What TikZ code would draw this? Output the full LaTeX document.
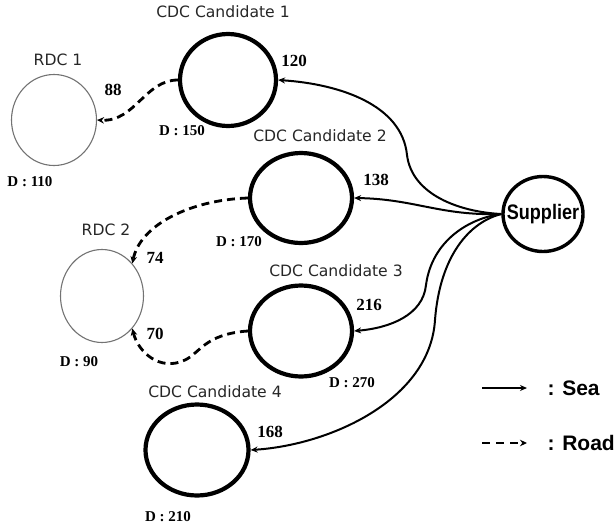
\documentclass[tikz,border=0pt]{standalone}
\usepackage{fontspec}
\setmainfont{Liberation Serif}
\newfontfamily\labelfont{DejaVu Sans}
\newfontfamily\boldsans{Liberation Sans}
\usetikzlibrary{shapes.geometric,arrows.meta}
\begin{document}
\begin{tikzpicture}[x=1pt,y=-1pt,
  cdc/.style={ellipse,draw,line width=4.2pt,inner sep=0pt},
  rdc/.style={ellipse,draw=black!55,line width=1.1pt,inner sep=0pt},
  supnode/.style={ellipse,draw,line width=3.4pt,inner sep=0pt},
  suptext/.style={font=\boldsans\bfseries\fontsize{21}{21}\selectfont},
  tag/.style={font=\labelfont\fontsize{15.6}{16}\selectfont,text=black!85},
  flow/.style={font=\bfseries\fontsize{17}{17}\selectfont},
  dem/.style={font=\bfseries\fontsize{15}{15}\selectfont},
  legtext/.style={anchor=west,font=\boldsans\bfseries\fontsize{21}{21}\selectfont},
  sea/.style={line width=2pt,-{Stealth[length=7pt,width=6pt]}},
  road/.style={line width=2.8pt,dash pattern=on 8pt off 5pt,-{Stealth[length=7pt,width=6.5pt]}},
]
\useasboundingbox (0,0) rectangle (614,528);

% distribution centres
\node[cdc,minimum width=96pt,minimum height=92pt] (c1) at (228,80) {};
\node[cdc,minimum width=102pt,minimum height=90pt] (c2) at (301,198) {};
\node[cdc,minimum width=102pt,minimum height=91pt] (c3) at (301,331) {};
\node[cdc,minimum width=103pt,minimum height=91pt] (c4) at (197,450) {};
\node[rdc,minimum width=85pt,minimum height=91pt] (r1) at (54,120) {};
\node[rdc,minimum width=83pt,minimum height=93pt] (r2) at (102,296) {};
\node[supnode,minimum width=80pt,minimum height=75pt] (sup) at (543,214) {};
\node[suptext,inner sep=0pt] (supt) at (sup.center) {\scalebox{0.86}[1]{Supplier}};

% names
\node[tag] (t1) at (223,12) {CDC Candidate 1};
\node[tag] (t2) at (320,136) {CDC Candidate 2};
\node[tag] (t3) at (336,271) {CDC Candidate 3};
\node[tag] (t4) at (215,392) {CDC Candidate 4};
\node[tag] (tr1) at (58,60) {RDC 1};
\node[tag] (tr2) at (106,230) {RDC 2};

% demands
\node[dem] (d1) at (182,131) {D : 150};
\node[dem] (d2) at (239,242) {D : 170};
\node[dem] (d3) at (352,383) {D : 270};
\node[dem] (d4) at (168,517) {D : 210};
\node[dem] (dr1) at (30,182) {D : 110};
\node[dem] (dr2) at (79,362) {D : 90};

% flow values
\node[flow] (f1) at (294,61) {120};
\node[flow] (f2) at (376,180) {138};
\node[flow] (f3) at (369,305) {216};
\node[flow] (f4) at (270,432) {168};
\node[flow] (f5) at (113,90) {88};
\node[flow] (f6) at (155,258) {74};
\node[flow] (f7) at (155,334) {70};

% sea links
\draw[sea] (sup.west) .. controls (460,212) and (412,195) .. (407,155)
  .. controls (402,105) and (340,84) .. (c1.east);
\draw[sea] (sup.west) .. controls (440,216) and (415,199) .. (c2.east);
\draw[sea] (sup.west) .. controls (470,218) and (432,240) .. (426,285)
  .. controls (423,315) and (390,328) .. (c3.east);
\draw[sea] (sup.west) .. controls (470,222) and (440,255) .. (435,320)
  .. controls (430,400) and (330,445) .. (c4.east);

% road links
\draw[road] (c1.west) .. controls (145,80) and (135,122) .. (r1.east);
\draw[road] (c2.west) .. controls (190,200) and (140,225) .. (r2.47);
\draw[road] (c3.west) .. controls (205,334) and (200,353) .. (185,360)
  .. controls (160,372) and (138,352) .. (r2.-47);

% legend
\coordinate (ls1) at (482,388);
\coordinate (ls2) at (527,388);
\coordinate (lr1) at (482,443);
\coordinate (lr2) at (527,443);
\draw[sea] (ls1) -- (ls2);
\draw[line width=2.6pt,dash pattern=on 8pt off 6pt,-{Stealth[length=7pt,width=6.5pt]}] (lr1) -- (lr2);
\node[legtext] (lsea) at (544,388) {: Sea};
\node[legtext] (lroad) at (544,443) {: Road};
\end{tikzpicture}
\end{document}
